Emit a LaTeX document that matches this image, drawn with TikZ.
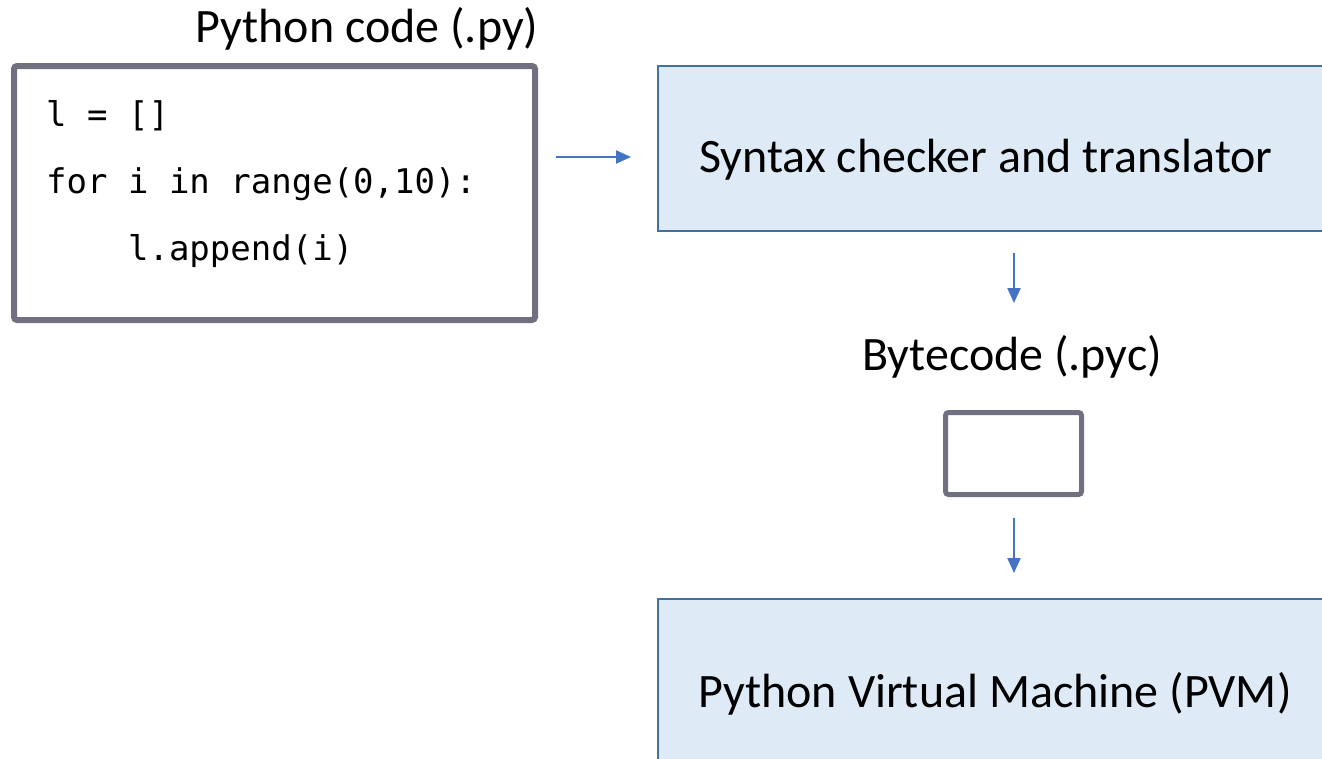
\documentclass[tikz,border=0pt]{standalone}
\usepackage{fontspec}
\setmainfont{Carlito}
\setmonofont{DejaVu Sans Mono}
\usetikzlibrary{arrows.meta}
\definecolor{codegray}{RGB}{112,112,128}
\definecolor{boxfill}{RGB}{222,235,247}
\definecolor{boxline}{RGB}{65,113,156}
\definecolor{arrowblue}{RGB}{68,114,196}
\tikzset{
  graybox/.style={draw=codegray, rounded corners=3pt},
  bluebox/.style={draw=boxline, fill=boxfill, line width=2pt},
  flow/.style={draw=arrowblue, line width=2.2pt, -{Triangle[length=15pt,width=13pt]}},
  big/.style={font=\fontsize{48}{57}\selectfont, inner sep=0pt},
  code/.style={font=\fontsize{34}{40}\selectfont\ttfamily, inner sep=0pt},
}
\begin{document}
\begin{tikzpicture}[x=1pt,y=-1pt]
\useasboundingbox (0,0) rectangle (1322,758);
\begin{scope}
\clip (0,0) rectangle (1322,758);
% code box
\draw[graybox, line width=6pt] (14,66) rectangle (535,320);
\node[big, anchor=base] (pylabel) at (367,42) {Python code (.py)};
\node[code, anchor=base west] (c1) at (46,126) {l = []};
\node[code, anchor=base west] (c2) at (46,193) {for i in range(0,10):};
\node[code, anchor=base west] (c3) at (46,260) {\ \ \ \ l.append(i)};
\coordinate (codeR) at (556,157);
\coordinate (synL) at (631,157);
% syntax box
\draw[bluebox] (658,66) rectangle (1340,231);
\node[big, anchor=base] (syn) at (986,172) {Syntax checker and translator};
\coordinate (synB) at (1014,253);
\node[big, anchor=base] (byte) at (1012,370) {Bytecode (.pyc)};
\coordinate (byteT) at (1014,303);
% small box
\draw[graybox, line width=5pt] (945.5,412.5) rectangle (1081.5,494.5);
\coordinate (smallB) at (1014,518);
\coordinate (pvmT) at (1014,573);
% pvm box
\draw[bluebox] (658,599) rectangle (1340,780);
\node[big, anchor=base] (pvm) at (995,707) {Python Virtual Machine (PVM)};
\draw[flow] (codeR) -- (synL);
\draw[flow] (synB) -- (byteT);
\draw[flow] (smallB) -- (pvmT);
\end{scope}
\end{tikzpicture}
\end{document}
